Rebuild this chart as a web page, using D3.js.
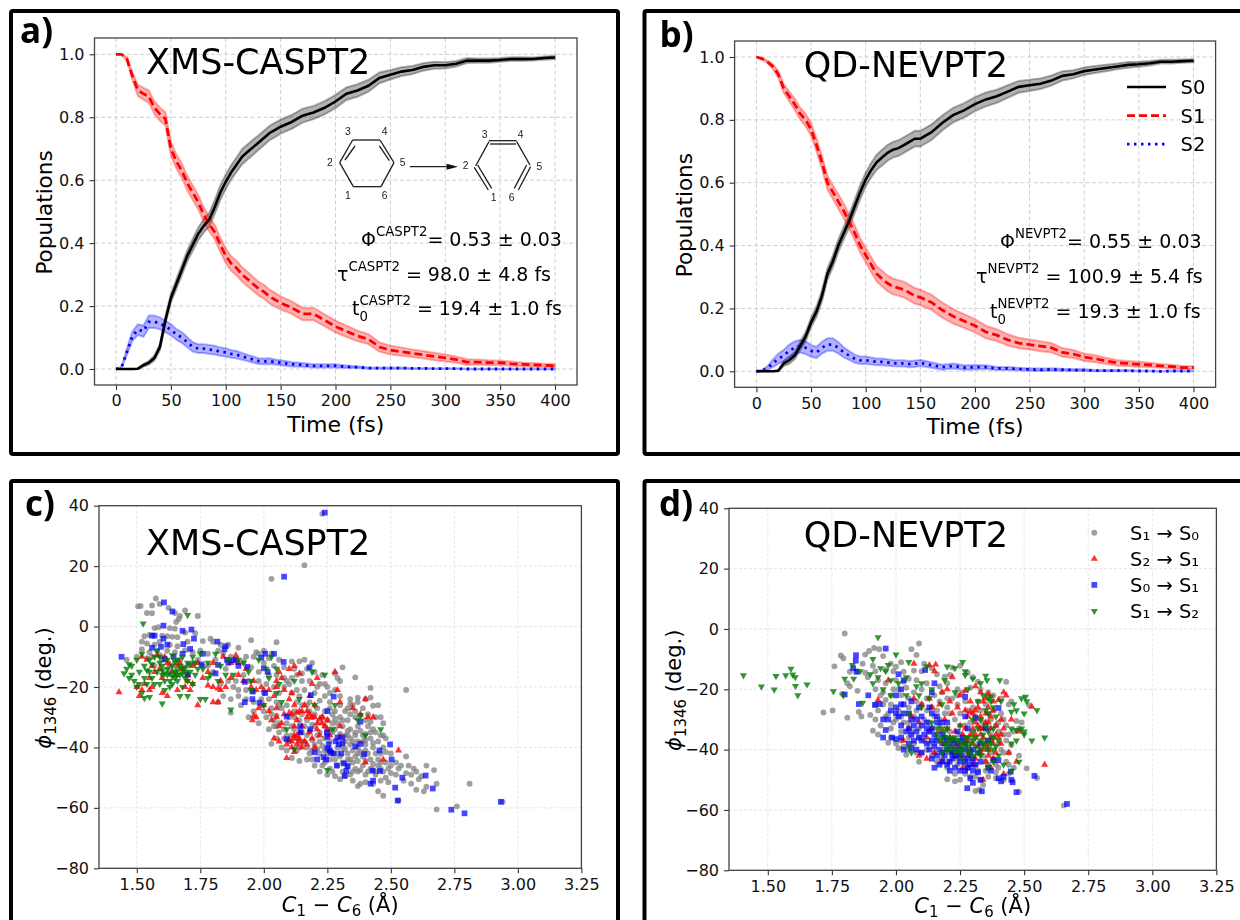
<!DOCTYPE html>
<html>
<head>
<meta charset="utf-8">
<script src="https://cdn.jsdelivr.net/npm/d3@7"></script>
<style>
  html, body { margin: 0; background: #fff; }
  svg { display: block; font-family: "DejaVu Sans", sans-serif; }
  .grid-a line { stroke: #cfcfcf; stroke-dasharray: 4 2.5; stroke-width: 1; }
  .grid-c line { stroke: #dedede; stroke-dasharray: 3 2; stroke-width: 0.8; }
  .soft { filter: blur(0.45px); }
</style>
</head>
<body>
<div id="chart"></div>
<script>
var time = [0,5,10,15,20,25,30,35,40,45,50,55,60,65,70,75,80,85,90,95,100,105,110,115,120,125,130,135,140,145,150,160,170,180,190,200,210,220,230,240,250,260,270,280,290,300,310,320,330,340,350,360,370,380,390,400];

// panel a, XMS-CASPT2
var a_S0 = [0,0,0,0,.001,.012,.02,.035,.07,.155,.225,.27,.315,.36,.395,.43,.455,.475,.515,.56,.595,.625,.65,.675,.69,.705,.72,.735,.75,.76,.77,.785,.805,.815,.83,.85,.875,.885,.9,.925,.935,.945,.95,.96,.965,.965,.97,.98,.98,.98,.982,.985,.985,.985,.988,.99];
var a_S1 = [1,1,.985,.93,.885,.875,.865,.83,.81,.795,.7,.66,.63,.59,.56,.53,.49,.46,.435,.395,.36,.335,.32,.3,.285,.27,.255,.245,.23,.22,.21,.195,.175,.175,.155,.135,.12,.105,.095,.07,.06,.055,.05,.045,.04,.035,.03,.022,.022,.02,.02,.017,.015,.013,.012,.01];
var a_S2 = [0,.005,.055,.105,.125,.12,.15,.15,.145,.135,.125,.11,.1,.085,.07,.065,.065,.062,.06,.055,.053,.048,.045,.04,.035,.03,.025,.024,.025,.022,.02,.015,.013,.01,.01,.01,.007,.006,.003,.003,.003,.003,.002,.002,.001,.001,.001,0,0,0,0,0,0,0,0,0];
var a_S0err = [0,0,0,0,.001,.004,.006,.008,.01,.012,.014,.016,.017,.018,.019,.02,.021,.022,.022,.023,.023,.023,.023,.024,.024,.024,.023,.023,.023,.023,.022,.022,.022,.021,.021,.021,.02,.02,.019,.017,.015,.014,.013,.012,.011,.01,.009,.008,.007,.007,.006,.006,.006,.005,.005,.005];
var a_S1err = [0,.001,.006,.012,.018,.019,.02,.02,.021,.021,.022,.022,.023,.023,.023,.023,.023,.023,.023,.023,.023,.023,.023,.023,.023,.022,.022,.022,.022,.022,.021,.02,.02,.02,.019,.019,.018,.017,.016,.015,.014,.013,.012,.012,.012,.011,.01,.009,.008,.008,.007,.007,.006,.006,.005,.005];
var a_S2err = [0,.002,.01,.015,.017,.018,.02,.02,.019,.018,.018,.017,.017,.016,.015,.014,.014,.014,.014,.013,.013,.012,.012,.011,.01,.01,.009,.009,.009,.008,.008,.007,.006,.005,.005,.005,.004,.003,.002,.002,.002,.002,.001,.001,.001,.001,.001,.001,.001,.001,.001,.001,.001,.001,.001,.001];

// panel b, QD-NEVPT2
var b_S0 = [0,0,0,0,.002,.025,.035,.05,.08,.11,.155,.19,.24,.31,.35,.4,.44,.48,.525,.57,.61,.64,.665,.68,.695,.705,.71,.72,.73,.74,.74,.76,.79,.815,.83,.85,.865,.875,.89,.905,.91,.915,.925,.94,.945,.955,.96,.965,.97,.975,.977,.98,.985,.985,.987,.988];
var b_S1 = [1,.995,.985,.97,.945,.9,.875,.85,.82,.8,.77,.72,.665,.6,.57,.54,.51,.475,.44,.4,.37,.34,.31,.295,.28,.27,.265,.26,.25,.24,.235,.22,.195,.175,.16,.145,.125,.115,.1,.09,.085,.08,.075,.06,.055,.045,.04,.033,.027,.025,.022,.02,.017,.015,.012,.012];
var b_S2 = [0,.002,.01,.025,.04,.05,.065,.075,.08,.075,.065,.06,.075,.085,.085,.075,.06,.05,.04,.035,.035,.033,.03,.03,.028,.026,.025,.025,.023,.024,.027,.02,.013,.017,.012,.013,.013,.009,.009,.007,.006,.005,.006,.005,.004,.004,.002,.002,.002,.002,.001,.001,0,.001,.001,.001];
var b_S0err = [0,0,0,0,.002,.008,.011,.012,.014,.015,.015,.017,.018,.018,.019,.02,.02,.021,.021,.022,.022,.023,.024,.025,.025,.025,.025,.025,.025,.025,.025,.025,.024,.023,.023,.022,.022,.021,.02,.019,.018,.017,.016,.015,.013,.012,.011,.01,.009,.009,.008,.007,.006,.006,.005,.005];
var b_S1err = [0,.002,.004,.008,.011,.014,.016,.018,.019,.02,.02,.021,.022,.022,.022,.023,.023,.023,.023,.023,.023,.024,.024,.025,.025,.025,.025,.025,.025,.025,.025,.024,.024,.023,.022,.021,.02,.019,.018,.017,.016,.016,.015,.014,.013,.012,.011,.01,.009,.008,.008,.007,.006,.006,.005,.005];
var b_S2err = [0,.002,.006,.012,.016,.018,.02,.02,.02,.02,.019,.018,.019,.02,.02,.018,.016,.014,.013,.012,.012,.011,.011,.011,.01,.01,.01,.01,.01,.01,.01,.009,.008,.008,.007,.007,.006,.005,.005,.004,.004,.004,.004,.003,.003,.003,.002,.002,.002,.002,.001,.001,.001,.001,.001,.001];

var timeTicks = [0,50,100,150,200,250,300,350,400];
var popTicks = [0,.2,.4,.6,.8,1];
var bondTicks = [1.5,1.75,2,2.25,2.5,2.75,3,3.25];
var angleTicks = [-80,-60,-40,-20,0,20,40];
var stateNames = ['S0','S1','S2'];
var hopNames = ['S\u2081 \u2192 S\u2080','S\u2082 \u2192 S\u2081','S\u2080 \u2192 S\u2081','S\u2081 \u2192 S\u2082'];

// panel c, hops [C1-C6, phi]
var c_S1S0 = [[1.505,6.7],[1.515,6.8],[1.575,9.3],[1.56,7],[1.59,7.5],[1.625,6.2],[1.54,4.5],[1.56,4.4],[1.65,4.5],[1.69,5.3],[1.67,3.5],[1.665,2.5],[1.655,1.5],[1.74,3.5],[1.57,-.5],[1.585,-.2],[1.63,-.5],[1.65,-.7],[1.53,-3.2],[1.55,-2.8],[1.6,-3],[1.62,-3.2],[1.64,-3.4],[1.66,-3.5],[1.69,-2],[1.73,-2.2],[1.52,-5],[1.54,-5.6],[1.57,-6],[1.59,-5],[1.63,-6],[1.66,-6.5],[1.7,-5],[1.76,-4.8],[1.79,-4],[1.8,-5],[1.83,-6],[1.86,-6],[1.52,-7.5],[1.55,-8.5],[1.58,-8],[1.62,-8],[1.65,-8.5],[1.69,-7.8],[1.72,-8.5],[1.75,-8],[1.78,-9],[1.82,-8],[1.84,-9],[1.9,-7],[1.95,-4.5],[2.05,-5.2],[1.97,-8.5],[2,-8],[2.03,-9],[1.93,-10],[1.96,-10],[1.98,-9],[2.02,-10.5],[2.06,-11],[2.11,-11.5],[2.14,-11.5],[2.16,-11],[2.19,-12],[1.46,-11],[1.5,-10],[1.54,-10.5],[1.6,-11],[1.67,-11],[1.74,-11],[1.81,-11],[1.87,-10],[1.92,-11.5],[2,-12],[2.04,-13],[2.08,-13.5],[2.12,-14],[2.15,-15.5],[2.2,-15],[2.23,-16],[2.31,-13.5],[2.36,-16.8],[2.28,-15.5],[2.29,-17],[2.3,-18],[2.42,-20.3],[2.56,-21],[1.92,-16],[1.95,-13.5],[1.98,-15],[2.02,-16],[2.05,-16],[2.08,-17],[2.11,-17],[2.15,-18],[2.18,-18],[2.22,-19],[2.25,-20],[2.28,-21],[1.86,-18],[1.89,-18],[1.94,-18],[1.98,-18],[2.01,-19],[2.04,-20],[2.08,-20],[2.13,-21],[2.16,-21],[2.2,-22],[2.24,-23],[2.3,-23],[2.34,-24],[2.37,-25],[2.4,-24],[2.42,-23.5],[2.45,-26],[2.43,-26.2],[1.84,-23],[1.87,-24],[1.82,-25],[1.9,-23],[1.93,-24],[1.96,-25],[1.99,-24],[2.02,-24],[2.05,-25],[2.09,-26],[2.13,-25],[2.17,-26],[2.21,-27],[2.26,-27],[2.3,-26],[2.33,-27],[2.36,-28],[2.39,-27],[2.41,-29],[1.87,-28.5],[1.91,-26],[1.94,-30],[1.96,-28],[1.98,-32],[2,-28],[2.03,-27],[2.04,-31],[2.06,-32],[2.09,-32],[2.12,-30],[2.15,-29],[2.19,-30],[2.23,-30],[2.27,-29],[2.3,-30],[2.33,-31],[2.36,-30],[2.4,-31],[2.44,-30],[2.46,-30],[2.47,-32],[2.02,-34],[2.05,-33],[2.08,-34],[2.12,-34],[2.16,-33],[2.2,-33],[2.24,-33],[2.27,-32],[2.31,-33],[2.34,-34],[2.37,-33],[2.41,-33],[2.44,-35],[2.47,-36],[2.03,-38.8],[2.05,-37],[2.09,-36],[2.13,-37],[2.17,-36],[2.21,-36],[2.24,-37],[2.33,-36],[2.36,-36],[2.39,-36],[2.42,-37],[2.45,-38],[2.48,-37],[2.09,-41],[2.13,-41],[2.17,-40],[2.2,-39],[2.23,-39.5],[2.31,-40],[2.34,-39],[2.37,-40],[2.4,-39],[2.43,-40],[2.46,-42],[2.5,-42],[2.11,-43.5],[2.14,-44.5],[2.17,-44],[2.22,-42],[2.26,-44],[2.3,-43],[2.33,-42],[2.36,-43],[2.39,-43],[2.42,-44],[2.45,-44],[2.48,-45],[2.52,-45],[2.56,-43],[2.2,-46],[2.23,-46],[2.26,-47],[2.29,-46],[2.33,-46],[2.36,-47],[2.39,-46],[2.42,-47],[2.45,-46],[2.49,-47],[2.53,-47],[2.57,-46],[2.59,-47],[2.22,-48],[2.25,-49],[2.28,-49.5],[2.31,-48],[2.34,-49],[2.37,-48],[2.4,-49],[2.44,-49],[2.48,-50],[2.52,-49],[2.56,-48.5],[2.6,-48],[2.62,-49.5],[2.64,-46],[2.67,-47.5],[2.3,-50.5],[2.35,-51],[2.38,-52],[2.4,-51.5],[2.43,-52],[2.46,-51],[2.49,-51.5],[2.55,-51],[2.58,-52],[2.61,-50.5],[2.37,-52.8],[2.45,-54.5],[2.47,-56],[2.6,-54],[2.63,-54.5],[2.64,-53],[2.68,-52],[2.81,-52],[2.53,-57.5],[2.68,-60.5],[2.76,-59.5],[2.94,-58],[2.23,37.3],[2.03,15.8],[2.16,20.3],[2.1,-38],[2.15,-38.5],[2.27,-35],[2.27,-42],[2.29,-40],[2.33,-44],[2.35,-45],[2.38,-41.5],[2.41,-42],[2.44,-48],[2.46,-47],[2.26,-34],[2.29,-32],[2.32,-36],[2.35,-38],[2.39,-38],[2.42,-35],[2.24,-41],[2.18,-42],[2.14,-40],[2.07,-40],[2.06,-35],[2.1,-30],[2.12,-28],[2.14,-23],[2.18,-25],[2.21,-20],[2.26,-25],[2.32,-28],[2.35,-26],[2.37,-23.5],[2.1,-19],[2.06,-22],[2,-22],[1.96,-21.5],[1.9,-21],[1.85,-14],[1.8,-15],[1.76,-13],[1.7,-13],[1.63,-14],[1.57,-13],
  [2.03,-29],[2.05,-29.5],[2.07,-27],[2.11,-33],[2.14,-31],[2.17,-31],[2.19,-32.5],[2.22,-31.5],[2.25,-31],[2.28,-30.5],[2.31,-31],[2.34,-29],[2.38,-29.5],[2.42,-31.5],[2.04,-33],[2.08,-37],[2.11,-36],[2.15,-35],[2.18,-34.5],[2.22,-35],[2.25,-35.5],[2.28,-34],[2.3,-35.5],[2.33,-34.5],[2.36,-35],[2.38,-34.5],[2.4,-35.5],[2.43,-34],[2.46,-36],[2.16,-38],[2.19,-37.5],[2.22,-38],[2.26,-38],[2.32,-38],[2.34,-37],[2.37,-38],[2.4,-37.5],[2.43,-38.5],[2.47,-40],[2.19,-41],[2.21,-40.5],[2.25,-42],[2.29,-42],[2.32,-40.5],[2.35,-41],[2.37,-42],[2.4,-41],[2.44,-42],[2.48,-41.5],[2.19,-44],[2.24,-45],[2.28,-44],[2.31,-45],[2.34,-44],[2.37,-44.5],[2.4,-44.5],[2.43,-45.5],[2.46,-45],[2.5,-46],[2.27,-48],[2.32,-49.5],[2.35,-48],[2.38,-47.5],[2.41,-48],[2.43,-47.5],[2.47,-48],[2.5,-48.5],[2.54,-46],[2.58,-49],[2.2,-29],[2.24,-28],[2.28,-28],[2.34,-25.5],[2.22,-24.5],[2.18,-28],[2.15,-26],[2.11,-22],[2.06,-26],[2.01,-30],[1.99,-26],[1.93,-21],[1.88,-20],[1.83,-19],[1.78,-13],[1.72,-12],[1.65,-12],[1.59,-9.5],[1.56,-10],[2.09,-18],[2.13,-16],[2.17,-14],[2.24,-19],[2.26,-22]];
var c_S2S1 = [[1.43,-21.7],[1.74,-26],[1.8,-25],[1.82,-25],[1.83,-21],[1.82,-20.5],[1.8,-20],[1.78,-19.5],[1.69,-20],[1.71,-21],[1.72,-19],[1.66,-21],[1.62,-23],[1.6,-22],[1.55,-21],[1.52,-21],[1.5,-20],[1.53,-19],[1.55,-17],[1.57,-15],[1.59,-14],[1.62,-12],[1.64,-15],[1.66,-13],[1.52,-10],[1.54,-11],[1.58,-9.5],[1.61,-10],[1.63,-12.5],[1.65,-16],[1.68,-14],[1.7,-18],[1.72,-13],[1.74,-12],[1.76,-17],[1.78,-15],[1.8,-12],[1.83,-18],[1.85,-20],[1.87,-17],[1.89,-9.5],[1.9,-12],[1.92,-18],[1.95,-20],[1.97,-21],[1.93,-14],[1.97,-30],[1.955,-31],[1.96,-29.5],[1.98,-27],[2,-26],[2.02,-28],[2.03,-31],[2.05,-30],[2.06,-33],[2.08,-29],[2.04,-23],[2.06,-15],[2.07,-17],[2.05,-18],[2.1,-14],[2.12,-13],[2.14,-15.5],[2.08,-21],[2.1,-24],[2.12,-26],[2.14,-28],[2.11,-29],[2.13,-31],[2.15,-33],[2.17,-28],[2.19,-30],[2.21,-32],[2.23,-30],[2.2,-26],[2.18,-23],[2.19,-19],[2.21,-17],[2.28,-15],[2.29,-21],[2.3,-25],[2.35,-27],[2.38,-29],[2.41,-30],[2.43,-30],[2.4,-24],[2.04,-37],[2.06,-38],[2.09,-39],[2.11,-40],[2.12,-37],[2.13,-36],[2.14,-38],[2.15,-40],[2.12,-41.5],[2.17,-39],[2.19,-37],[2.2,-40],[2.22,-36],[2.09,-43.5],[2.26,-41],[2.47,-44],[2.53,-41],[2.4,-45],[2.3,-36.5],[2.3,-33],[2.24,-33],[2.25,-34],[2.26,-36],[2.16,-26],[2.05,-27],[2,-21],[1.96,-18],[1.9,-16],[1.87,-12],[1.84,-10],[1.7,-16],[1.67,-12],[1.6,-17],[1.56,-13],[1.51,-23],[1.56,-20],
  [2.1,-28.5],[2.13,-28.5],[2.15,-28],[2.17,-30],[2.2,-30],[2.22,-30.5],[2.12,-33],[2.14,-35],[2.11,-38],[2.13,-39],[2.14,-37],[2.12,-36],[2.1,-37.5],[2.16,-38],[2.18,-35],[2.21,-34],[2.23,-32],[2.25,-31],[2.18,-29],[2.07,-32],[1.99,-20],[2.05,-20],[2.02,-21],[2.11,-22]];
var c_S0S1 = [[1.44,-10],[1.607,8],[1.64,5],[1.605,.3],[1.57,-3],[1.56,-3],[1.605,-4],[1.595,-6.7],[1.56,-7],[1.62,-6],[1.68,-1.4],[1.715,-1],[1.725,-4],[1.683,-5.8],[1.71,-7.4],[1.61,-10.8],[1.645,-10],[1.68,-9],[1.76,-9],[1.755,-12.5],[1.7,-16],[1.81,-15.5],[1.82,-12.7],[1.817,-5],[1.85,-6.5],[1.845,-7.5],[1.855,-11],[1.86,-12],[1.88,-11.2],[1.89,-11],[1.9,-13],[1.935,-13.3],[1.925,-18.3],[1.955,-21.5],[1.955,-24],[1.925,-25],[1.983,-25.2],[2,-13.8],[2.015,-15],[1.99,-10.3],[2.005,-9],[2.04,-9],[2.078,-11.7],[2.18,-13.5],[2.005,-22],[2.185,-22.7],[2.275,-23.2],[2.25,-28],[2.09,-29.8],[2.09,-37.3],[2.143,-33],[2.145,-35],[2.183,-34],[2.248,-35],[2.25,-36.5],[2.29,-36.7],[2.31,-36.7],[2.283,-38],[2.31,-38.6],[2.295,-39],[2.255,-39],[2.26,-41],[2.275,-42],[2.265,-41.7],[2.25,-40.3],[2.2,-41.6],[2.21,-44],[2.235,-43.2],[2.245,-44],[2.305,-42],[2.315,-45.3],[2.33,-46.2],[2.287,-46],[2.325,-47.7],[2.318,-49.4],[2.36,-39.7],[2.38,-38.8],[2.395,-42.2],[2.38,-31.5],[2.455,-41],[2.497,-39],[2.503,-44],[2.428,-47.7],[2.457,-47.8],[2.545,-50],[2.42,-52],[2.43,-51],[2.517,-53.3],[2.527,-57.6],[2.637,-49.3],[2.665,-53.6],[2.738,-60.6],[2.79,-61.8],[2.933,-58],[2.24,37.7],[2.08,16.5]];
var c_S1S2 = [[1.525,1],[1.7,3.8],[1.52,-9],[1.5,-11],[1.47,-12.5],[1.46,-14],[1.48,-16],[1.45,-15.5],[1.47,-17],[1.49,-18],[1.5,-20],[1.51,-15],[1.53,-13],[1.55,-11],[1.57,-10],[1.58,-8],[1.52,-22],[1.53,-23.7],[1.55,-23.3],[1.54,-19],[1.56,-17],[1.58,-15],[1.6,-13],[1.62,-11],[1.64,-9.5],[1.59,-19],[1.6,-25.5],[1.62,-16],[1.64,-13],[1.66,-11],[1.68,-10],[1.61,-21],[1.63,-18],[1.65,-15],[1.67,-13],[1.69,-15],[1.7,-12],[1.72,-10],[1.66,-18],[1.68,-20],[1.67,-23],[1.7,-23],[1.69,-17],[1.71,-15],[1.73,-12],[1.75,-9],[1.72,-19],[1.75,-24],[1.77,-24],[1.76,-14],[1.78,-12],[1.79,-16],[1.81,-9],[1.83,-13],[1.85,-16],[1.88,-16],[1.87,-27.5],[1.9,-11],[1.92,-12],[1.94,-15],[1.95,-18],[1.98,-11],[2.03,-10],[2.02,-17],[2.05,-22],[2.07,-25],[2.06,-19],[2.12,-18],[2.14,-24],[2.19,-15],[2.2,-26],[2.24,-16],[2.28,-26],[2.27,-34],[2.38,-29.3],[2.4,-36],[2.46,-34],[2.25,-47.5],[2.12,-40.5],[2.37,-31],[2.09,-34],[2,-26],[1.63,-20],[1.59,-10],[1.65,-17],[1.73,-16],[1.55,-15],[1.57,-19],[1.48,-13],[1.6,-16],[1.62,-14],[1.64,-19],[1.67,-16],[1.68,-14],[1.7,-18],[1.53,-17],[1.51,-19],[1.78,-17],[1.82,-18],[1.86,-11],[1.95,-21],[2.01,-14],[2.05,-14],
  [1.6,-14.5],[1.61,-15.5],[1.63,-15.5],[1.64,-16.5],[1.66,-14.5],[1.68,-15.5],[1.69,-13.5],[1.65,-11.5],[1.59,-12],[1.56,-12.5],[1.54,-14.5],[1.61,-18],[1.66,-16],[1.71,-12.5],[1.74,-14]];

// panel d
var d_S1S0 = [[1.8,-1.5],[2.09,-4.8],[2.06,-6.7],[1.915,-6.3],[1.895,-7.3],[1.88,-8.5],[1.785,-8.8],[1.795,-9.7],[1.935,-6.7],[1.95,-9],[2.08,-8.6],[1.76,-12.4],[1.87,-11.5],[1.91,-12.2],[1.98,-11.5],[2.02,-11],[2,-12.5],[2.11,-11.5],[2.14,-13],[2.22,-12.8],[2.25,-12.2],[2.28,-14.5],[1.82,-14.2],[1.85,-14],[1.88,-14.5],[1.92,-14],[1.96,-13.5],[1.99,-14],[2.03,-14.2],[2.07,-13.8],[2.1,-14],[2.16,-15],[2.19,-15.8],[2.21,-15.2],[2.43,-17.5],[1.81,-18],[1.82,-19],[1.89,-16],[1.93,-17],[1.96,-18],[2,-17],[2.03,-17.5],[2.05,-16.5],[2.08,-17],[2.12,-18],[2.17,-19],[2.2,-18],[2.24,-20],[2.3,-16],[2.32,-17.5],[2.38,-22],[1.79,-21.5],[1.85,-20.5],[1.92,-20],[1.95,-21],[1.98,-22],[2.01,-20],[2.04,-19.5],[2.07,-21],[2.1,-20],[2.15,-22],[2.18,-21],[2.22,-23],[2.26,-21],[2.29,-19.5],[2.33,-20],[2.36,-21],[2.41,-23],[2.45,-24],[2.44,-25],[2.52,-25.3],[1.717,-27.7],[1.753,-27],[1.81,-29.4],[1.855,-27.5],[1.865,-29],[1.9,-28.5],[1.92,-25],[1.95,-25],[1.98,-25],[2.01,-27],[2.05,-26],[2.1,-25],[2.14,-26],[2.17,-24],[2.2,-26],[2.24,-25],[2.28,-27],[2.32,-24],[2.35,-25],[2.38,-27],[2.41,-28],[1.92,-30],[1.94,-32],[1.97,-28],[2,-30],[2.03,-31],[2.07,-29],[2.11,-30],[2.15,-29],[2.19,-28],[2.23,-30],[2.27,-32],[2.31,-29],[2.34,-31],[2.37,-30],[2.4,-31],[2.43,-32],[2.47,-30.5],[2.49,-31],[1.91,-33.7],[1.93,-35],[1.98,-33],[2.02,-34],[2.05,-36],[2.09,-33],[2.13,-34],[2.17,-32],[2.21,-34],[2.25,-35],[2.29,-36],[2.33,-33],[2.37,-35],[2.4,-34],[2.44,-35],[2.46,-34],[2.48,-33],[2,-38],[2.03,-39],[2.07,-38],[2.11,-37],[2.15,-38],[2.19,-40],[2.23,-39],[2.28,-40],[2.32,-38],[2.36,-39],[2.4,-38],[2.43,-37],[2.45,-38.5],[1.97,-37.7],[2.01,-39.5],[2.04,-41.7],[2.1,-41],[2.09,-44],[2.14,-42],[2.18,-43],[2.22,-42],[2.26,-43],[2.3,-44],[2.34,-42],[2.38,-43],[2.42,-41],[2.48,-42],[2.2,-46],[2.24,-45],[2.28,-46],[2.32,-47],[2.36,-45],[2.4,-46],[2.44,-45],[2.46,-46],[2.51,-46.2],[2.2,-49.8],[2.23,-50.5],[2.25,-50],[2.29,-49],[2.33,-50],[2.36,-49],[2.39,-49.5],[2.42,-50],[2.55,-49.4],[2.34,-51.7],[2.31,-53.7],[2.325,-53.3],[2.48,-54],[2.655,-58.5],
  [1.94,-22],[1.96,-23.5],[1.99,-20],[2.02,-22],[2.05,-23],[2.08,-24],[2.12,-23],[1.93,-27],[1.96,-29],[1.99,-31],[2.02,-29],[2.05,-31],[2.08,-27],[2.12,-27],[2.16,-27],[2.2,-23],[2.24,-22],[2.27,-24],[2.3,-26],[2.33,-27],[2.36,-28],[2.13,-31],[2.17,-30],[2.21,-28],[2.25,-28],[2.29,-31],[2.33,-30],[2.36,-33],[2.39,-32],[2.42,-30],[1.98,-36],[2.02,-37],[2.06,-34],[2.09,-36],[2.13,-38],[2.16,-36],[2.19,-36],[2.23,-37],[2.27,-38],[2.31,-36],[2.35,-37],[2.38,-36],[2.42,-35],[2.05,-40],[2.08,-41],[2.12,-40],[2.15,-41],[2.18,-38],[2.21,-41],[2.25,-41],[2.29,-42],[2.33,-40],[2.37,-41],[2.41,-40],[2.44,-41],[2.16,-44],[2.2,-44],[2.24,-43],[2.27,-45],[2.31,-45],[2.35,-44],[2.39,-45],[2.43,-44],[2.23,-48],[2.27,-48],[2.31,-49],[2.35,-47],[2.39,-47.5],[2.44,-48]];
var d_S2S1 = [[2.07,-11.5],[2.13,-12],[2.155,-11.8],[2.15,-14],[2.22,-16],[2.31,-19],[2.33,-21],[2.36,-21.5],[2.42,-21],[2.43,-22],[2.4,-23.5],[2.53,-25.8],[2.45,-30],[2.48,-34],[2.58,-45],[2.47,-44],[2.42,-48],[2.34,-50],[2.37,-46],[2.27,-20.5],[2.25,-22],[2.21,-24],[2.17,-25],[2.14,-26],[2.07,-23],[1.97,-17],[1.93,-23.5],[2.06,-29],[2.09,-31],[2.05,-33],[2.03,-37],[2.12,-36],[2.14,-33],[2.17,-34],[2.19,-30],[2.22,-28],[2.25,-32],[2.28,-29],[2.3,-28],[2.31,-31],[2.33,-33],[2.36,-31],[2.38,-27],[2.41,-30],[2.42,-33],[2.39,-35],[2.37,-37],[2.34,-36],[2.31,-35],[2.28,-37],[2.26,-35],[2.24,-38],[2.21,-36],[2.18,-38],[2.15,-41],[2.12,-43],[2.09,-42],[2.29,-40],[2.33,-41],[2.36,-42],[2.39,-41],[2.41,-38],[2.34,-24],[2.29,-24],[2.24,-26],[2.2,-20],[2.18,-21],[2.13,-23],[2.1,-25],[2.27,-33],[2.23,-34],[2.2,-33],[2.3,-33],[2.35,-28],[2.32,-26],[2.37,-33],[2.4,-36],[2.35,-44],[2.3,-45],[2.26,-46],[2.22,-41],[2.18,-44],[2.44,-41],
  [2.27,-27],[2.29,-27.5],[2.31,-27],[2.33,-29],[2.35,-31],[2.37,-29],[2.39,-32],[2.34,-33],[2.32,-32],[2.29,-35],[2.33,-35],[2.35,-38],[2.37,-36],[2.38,-38],[2.27,-37],[2.25,-39],[2.22,-38],[2.3,-38],[2.32,-39],[2.34,-40],[2.36,-40],[2.28,-42],[2.25,-42],[2.31,-43],[2.38,-43],[2.41,-35],[2.35,-23],[2.36,-26],[2.38,-24]];
var d_S0S1 = [[1.844,-8.7],[1.843,-10.5],[1.833,-13],[1.846,-14.2],[1.96,-6.5],[1.8,-21.7],[1.855,-24.9],[1.892,-22],[1.918,-25.2],[1.937,-24.9],[2.114,-13.6],[2.667,-58],[2.47,-54.1],[2.335,-53.8],[2.278,-52.8],[2.54,-48.7],[2.45,-50],[2.455,-50.8],[2.448,-47.3],[2.4,-26.2],[2.01,-15],[2.03,-17],[2.15,-18],[2.14,-21],[2.02,-20],[2,-22],[1.98,-27],[1.97,-30],[2,-26],[2.02,-25],[2,-28],[2.01,-29],[2.03,-28],[2.06,-24],[1.95,-30],[1.96,-33.5],[1.95,-36],[1.985,-36],[2.02,-32],[2.04,-34],[2.06,-30],[2.09,-26],[2.08,-30],[2.1,-32],[2.12,-33],[2.13,-26],[2.14,-28],[2.16,-29],[2.27,-22.5],[2.27,-29],[2.31,-29.5],[2.18,-31],[2.2,-31],[2,-36.5],[2.02,-36],[2.05,-38],[2.06,-39.5],[2.08,-40],[2.1,-41],[2.03,-40],[2.11,-35],[2.14,-37],[2.15,-39],[2.16,-42],[2.14,-43],[2.15,-46],[2.18,-35],[2.19,-38],[2.2,-40],[2.22,-37],[2.22,-43],[2.19,-42],[2.23,-46],[2.25,-44],[2.25,-40],[2.27,-38],[2.27,-44],[2.29,-45],[2.27,-47],[2.29,-49.5],[2.3,-51],[2.33,-50],[2.32,-47.5],[2.37,-47],[2.36,-46],[2.38,-43.5],[2.4,-43.5],[2.41,-50.5],[2.42,-49],[2.4,-49.5],[2.3,-40],[2.33,-38],[2.36,-37],[2.35,-33],[2.26,-36],[2.28,-33],[2.2,-45],[2.21,-47],[2.13,-34],[2.09,-36],[2.07,-32],[2.24,-34],[2.17,-45],
  [2.05,-33],[2.06,-35],[2.07,-37],[2.08,-34],[2.1,-37],[2.12,-38],[2.13,-40],[2.15,-35],[2.16,-37],[2.17,-40],[2.18,-41],[2.19,-36],[2.2,-37],[2.21,-39],[2.22,-41],[2.23,-40],[2.24,-38],[2.24,-42],[2.25,-37],[2.26,-42],[2.27,-40],[2.28,-43],[2.28,-46],[2.29,-41],[2.3,-43],[2.3,-47],[2.31,-45],[2.32,-41],[2.33,-44],[2.21,-44],[2.23,-42],[2.25,-47],[2.18,-44],[2.16,-31],[2.14,-33],[2.12,-31],[2.1,-29],[2.05,-28],[2.03,-25]];
var d_S1S2 = [[1.405,-15.4],[1.475,-19.1],[1.525,-20.1],[1.532,-15.6],[1.57,-15.4],[1.59,-13.2],[1.597,-15.1],[1.607,-16],[1.608,-18.9],[1.617,-22],[1.653,-18.4],[1.756,-20.7],[1.93,-2.8],[2,-8.5],[1.91,-10],[1.83,-12],[1.94,-13],[1.97,-12],[2.05,-11],[2.12,-12.5],[2.26,-11],[2.27,-14],[2.27,-15.3],[2.2,-12.5],[2.23,-13],[1.8,-16.5],[1.835,-16.5],[1.86,-14],[1.9,-15],[1.91,-18],[1.93,-16],[1.96,-14],[1.98,-17],[2.01,-18],[2.04,-16],[2.08,-19],[2.1,-18],[2.14,-20],[2.19,-17],[2.35,-15.5],[2.355,-17],[2.405,-17],[2.3,-16.5],[2.33,-18],[1.795,-22],[1.87,-24.5],[1.95,-20],[1.98,-22],[2.04,-22],[2.09,-22],[2.13,-23],[2.18,-25],[2.23,-21],[2.28,-20],[2.32,-24],[2.36,-23],[2.37,-22.5],[2.41,-24],[2.46,-25],[2.49,-23],[2.505,-22.5],[2.51,-24],[2.55,-27],[2.47,-27],[2.45,-27.5],[2.5,-28],[2.39,-29],[2.35,-27],[2.3,-30],[2.25,-32],[2.2,-33],[2.14,-31],[2.1,-26],[2.05,-28],[2.45,-33],[2.47,-33.5],[2.5,-34],[2.49,-33],[2.45,-38],[2.5,-35],[2.53,-37],[2.58,-36],[2.47,-37],[2.4,-37],[2.36,-34],[2.32,-33],[2.28,-36],[2.25,-38],[2.22,-36],[2.19,-34],[2.16,-33],[2.17,-37],[2.19,-38],[2.21,-40],[2.23,-36],[2.26,-40],[2.28,-39],[2.3,-37],[2.33,-37],[2.35,-39],[2.37,-38],[2.4,-42],[2.38,-40],[2.33,-40],[2.3,-42],[2.25,-41],[2.2,-40],[2.18,-41],[2.06,-41],[2.05,-39],[2.48,-44],[2.45,-47],[2.42,-45],[2.38,-44],[2.36,-46],
  [2.16,-35],[2.18,-36],[2.2,-36],[2.21,-37],[2.22,-39],[2.24,-37],[2.24,-40],[2.26,-38],[2.27,-36],[2.27,-38],[2.29,-38],[2.29,-41],[2.31,-39],[2.31,-36],[2.32,-41],[2.34,-38],[2.34,-35],[2.36,-37],[2.36,-40],[2.38,-36],[2.39,-39],[2.2,-38],[2.18,-33],[2.23,-41],[2.26,-43],[2.28,-41],[2.33,-42],[2.3,-34],[2.35,-32],[2.38,-33],[2.33,-30],[2.36,-28],[2.38,-26],[2.37,-24],[2.34,-22]];

var svg = d3.select('#chart').append('svg').attr('width', 1240).attr('height', 920);

// panel frames
var frames = [[11,11,607,443],[644.5,11,640,443],[11,481,607,480],[644.5,481,640,480]];
svg.selectAll('.frame').data(frames).enter().append('rect')
  .attr('class', 'frame')
  .attr('x', d => d[0]).attr('y', d => d[1]).attr('width', d => d[2]).attr('height', d => d[3])
  .attr('rx', 2).attr('fill', 'none').attr('stroke', '#000').attr('stroke-width', 4);

var addAxes = (p, xScale, yScale, xTicks, yTicks, fmtX, fmtY, gridClass, size) => {
  var g = svg.append('g');
  var grid = g.append('g').attr('class', gridClass);
  grid.selectAll('.gx').data(xTicks).enter().append('line')
    .attr('x1', d => xScale(d)).attr('x2', d => xScale(d)).attr('y1', p.top).attr('y2', p.bottom);
  grid.selectAll('.gy').data(yTicks).enter().append('line')
    .attr('x1', p.left).attr('x2', p.right).attr('y1', d => yScale(d)).attr('y2', d => yScale(d));
  var xa = d3.axisBottom(xScale).tickValues(xTicks).tickFormat(fmtX).tickSize(5).tickPadding(5).tickSizeOuter(0);
  var ya = d3.axisLeft(yScale).tickValues(yTicks).tickFormat(fmtY).tickSize(5).tickPadding(5).tickSizeOuter(0);
  [[xa, `translate(0,${p.bottom})`], [ya, `translate(${p.left},0)`]].forEach(a => {
    var ax = svg.append('g').attr('transform', a[1]).call(a[0]);
    ax.select('.domain').remove();
    ax.selectAll('line').attr('stroke', '#333').attr('stroke-width', 1.1);
    ax.selectAll('text').attr('fill', '#111').style('font-size', size + 'px').style('font-family', '"DejaVu Sans"');
  });
  return g;
};
var addSpines = p => {
  svg.append('rect').attr('x', p.left).attr('y', p.top)
    .attr('width', p.right - p.left).attr('height', p.bottom - p.top)
    .attr('fill', 'none').attr('stroke', '#444').attr('stroke-width', 1.3);
};

var stateStyle = [
  { color: '#000', dash: null, width: 2.6 },
  { color: '#f00', dash: '8 4', width: 2.8 },
  { color: '#00f', dash: '2.5 4.5', width: 2.8 }
];

var drawPopulation = (p, series, errs) => {
  var xScale = d3.scaleLinear().domain([0, 400]).range([p.x0, p.x400]);
  var yScale = d3.scaleLinear().domain([0, 1]).range([p.y0, p.y1]);
  addAxes(p, xScale, yScale, timeTicks, popTicks, d3.format('d'), d3.format('.1f'), 'grid-a', 16);
  var marks = svg.append('g').attr('class', 'soft');
  series.forEach((vals, k) => {
    var st = stateStyle[k];
    var band = d3.area().x((d, i) => xScale(time[i]))
      .y0((d, i) => yScale(vals[i] - errs[k][i]))
      .y1((d, i) => yScale(vals[i] + errs[k][i]));
    marks.append('path').attr('d', band(vals)).attr('fill', st.color).attr('fill-opacity', 0.3)
      .attr('stroke', st.color).attr('stroke-opacity', 0.3).attr('stroke-width', 2);
  });
  [2, 1, 0].forEach(k => {
    var st = stateStyle[k];
    var line = d3.line().x((d, i) => xScale(time[i])).y(d => yScale(d));
    marks.append('path').attr('d', line(series[k])).attr('fill', 'none')
      .attr('stroke', st.color).attr('stroke-width', st.width).attr('stroke-dasharray', st.dash);
  });
  addSpines(p);
  svg.append('text').attr('x', (p.left + p.right) / 2).attr('y', p.bottom + 47)
    .attr('text-anchor', 'middle').style('font-size', '22px').text('Time (fs)');
  svg.append('text').attr('transform', `translate(${p.left - 43},${(p.top + p.bottom) / 2 + 1}) rotate(-90)`)
    .attr('text-anchor', 'middle').style('font-size', '21.5px').text('Populations');
};

var drawTitle = (txt, x, y) => {
  svg.append('text').attr('x', x).attr('y', y).style('font-size', '35px').text(txt);
};
var drawLetter = (txt, x, y) => {
  svg.append('text').attr('x', x).attr('y', y)
    .style('font-family', '"Open Sans"').style('font-weight', 700).style('font-size', '35px').text(txt);
};

// the three fitted values written in each population panel
var drawFit = (method, rows, x) => {
  var t0 = svg.append('text').attr('x', x[0]).attr('y', rows[0][1]).style('font-size', '19px');
  t0.append('tspan').text('\u03a6');
  t0.append('tspan').attr('dy', -10.5).style('font-size', '13.3px').text(method);
  t0.append('tspan').attr('dy', 10.5).text('= ' + rows[0][0]);
  var t1 = svg.append('text').attr('x', x[1]).attr('y', rows[1][1]).style('font-size', '19px');
  t1.append('tspan').text('\u03c4');
  t1.append('tspan').attr('dy', -10.5).style('font-size', '13.3px').text(method);
  t1.append('tspan').attr('dy', 10.5).text(' = ' + rows[1][0]);
  var t2 = svg.append('text').attr('x', x[2]).attr('y', rows[2][1]).style('font-size', '19px');
  t2.append('tspan').text('t');
  t2.append('tspan').attr('dy', 6).style('font-size', '13.3px').text('0');
  t2.append('tspan').attr('dy', -16.5).attr('dx', -8.5).style('font-size', '13.3px').text(method);
  t2.append('tspan').attr('dy', 10.5).text(' = ' + rows[2][0]);
};

var drawScatter = (p, groups) => {
  var xScale = d3.scaleLinear().domain([1.5, 3.25]).range([p.x150, p.right]);
  var yScale = d3.scaleLinear().domain([-80, 40]).range([p.bottom, p.top]);
  addAxes(p, xScale, yScale, bondTicks, angleTicks, d3.format('.2f'), d => d3.format('d')(d).replace('-', '\u2212'), 'grid-c', 16);
  var marks = svg.append('g').attr('class', 'soft');
  groups.forEach((pts, k) => drawHops(marks, pts.map(d => [xScale(d[0]), yScale(d[1])]), k));
  addSpines(p);
  var xl = svg.append('text').attr('x', (p.left + p.right) / 2).attr('y', p.labelY)
    .attr('text-anchor', 'middle').style('font-size', '21px');
  xl.append('tspan').style('font-style', 'italic').text('C');
  xl.append('tspan').attr('dy', 4).style('font-size', '15px').text('1');
  xl.append('tspan').attr('dy', -4).text(' \u2212 ');
  xl.append('tspan').style('font-style', 'italic').text('C');
  xl.append('tspan').attr('dy', 4).style('font-size', '15px').text('6');
  xl.append('tspan').attr('dy', -4).text(' (\u00c5)');
  var yl = svg.append('text').attr('transform', `translate(${p.left - 48},${(p.top + p.bottom) / 2 + 1}) rotate(-90)`)
    .attr('text-anchor', 'middle').style('font-size', '21px');
  yl.append('tspan').style('font-style', 'italic').text('\u03d5');
  yl.append('tspan').attr('dy', 5).style('font-size', '15px').text('1346');
  yl.append('tspan').attr('dy', -5).text(' (deg.)');
};

var hopStyle = [
  { color: '#808080', type: d3.symbolCircle, size: 27, rot: 0, op: 0.75 },
  { color: '#f00', type: d3.symbolTriangle, size: 22, rot: 0, op: 0.8 },
  { color: '#00f', type: d3.symbolSquare, size: 33, rot: 0, op: 0.72 },
  { color: '#007a00', type: d3.symbolTriangle, size: 22, rot: 180, op: 0.8 }
];
var drawHops = (g, pts, k) => {
  var st = hopStyle[k];
  g.append('g').selectAll('path').data(pts).enter().append('path')
    .attr('d', d3.symbol().type(st.type).size(st.size))
    .attr('transform', d => `translate(${d[0]},${d[1]}) rotate(${st.rot})`)
    .attr('fill', st.color).attr('fill-opacity', st.op);
};

var panelA = { left: 94.5, right: 577, top: 38, bottom: 385, x0: 116, x400: 555, y0: 369, y1: 54.3 };
var panelB = { left: 734.6, right: 1215.6, top: 41, bottom: 387.3, x0: 756.4, x400: 1193.5, y0: 371.3, y1: 57 };
var panelC = { left: 99, right: 581.4, top: 505.7, bottom: 868.3, x150: 136.8, labelY: 912 };
var panelD = { left: 729, right: 1216.4, top: 508.3, bottom: 870.3, x150: 767.8, labelY: 913 };

drawPopulation(panelA, [a_S0, a_S1, a_S2], [a_S0err, a_S1err, a_S2err]);
drawPopulation(panelB, [b_S0, b_S1, b_S2], [b_S0err, b_S1err, b_S2err]);
drawScatter(panelC, [c_S1S0, c_S2S1, c_S0S1, c_S1S2]);
drawScatter(panelD, [d_S1S0, d_S2S1, d_S0S1, d_S1S2]);

drawTitle('XMS-CASPT2', 146, 74);
drawTitle('QD-NEVPT2', 803.8, 77);
drawTitle('XMS-CASPT2', 146, 555);
drawTitle('QD-NEVPT2', 803.8, 547);
drawLetter('a)', 20, 43);
drawLetter('b)', 659.5, 47);
drawLetter('c)', 25, 516);
drawLetter('d)', 659, 516);

drawFit('CASPT2', [['0.53 \u00b1 0.03', 246], ['98.0 \u00b1 4.8 fs', 281], ['19.4 \u00b1 1.0 fs', 315]], [361, 337, 352]);
drawFit('NEVPT2', [['0.55 \u00b1 0.03', 248], ['100.9 \u00b1 5.4 fs', 283], ['19.3 \u00b1 1.0 fs', 318]], [1000, 976, 990]);

// legend b
var legB = svg.append('g');
stateNames.forEach((name, k) => {
  var st = stateStyle[k], y = 87 + k * 28.6;
  legB.append('line').attr('x1', 1127).attr('x2', 1166).attr('y1', y).attr('y2', y)
    .attr('stroke', st.color).attr('stroke-width', st.width).attr('stroke-dasharray', st.dash);
  legB.append('text').attr('x', 1180.5).attr('y', y + 7).style('font-size', '19.5px').text(name);
});

// legend d
var legD = svg.append('g');
hopNames.forEach((name, k) => {
  var y = 532.7 + k * 26.1;
  drawHops(legD, [[1094.3, y]], k);
  legD.append('text').attr('x', 1130).attr('y', y + 7).style('font-size', '19.5px').text(name);
});

// molecule sketch in panel a
var mol = svg.append('g').attr('transform', 'translate(300,110) scale(0.3333)');
var bonds = [
  [158,90,240,90],[240,90,282,158],[282,158,243,230],[243,230,160,230],[160,230,119,158],[119,158,158,90],
  [135,150,165,108],[238,108,268,152],
  [527,168,567,95],[567,92,650,92],[570,102,648,102],[650,95,690,165],
  [523,172,565,240],[533,165,575,235],[692,170,655,240],[680,165,643,235],
  [330,170,445,170]
];
mol.selectAll('line').data(bonds).enter().append('line')
  .attr('x1', d => d[0]).attr('y1', d => d[1]).attr('x2', d => d[2]).attr('y2', d => d[3])
  .attr('stroke', '#222').attr('stroke-width', 4);
mol.append('path').attr('d', 'M440,161L474,170L440,179Z').attr('fill', '#111');
var atoms = [['3',144,65],['4',254,65],['2',90,158],['5',308,158],['1',144,256],['6',254,256],['3',554,72],['4',662,72],['2',497,167],['5',718,170],['1',581,262],['6',635,262]];
mol.selectAll('.atom').data(atoms).enter().append('text')
  .attr('class', 'atom').attr('x', d => d[1]).attr('y', d => d[2] + 11)
  .attr('text-anchor', 'middle').attr('fill', '#222')
  .style('font-family', '"Liberation Sans"').style('font-size', '31px').text(d => d[0]);
</script>
</body>
</html>
